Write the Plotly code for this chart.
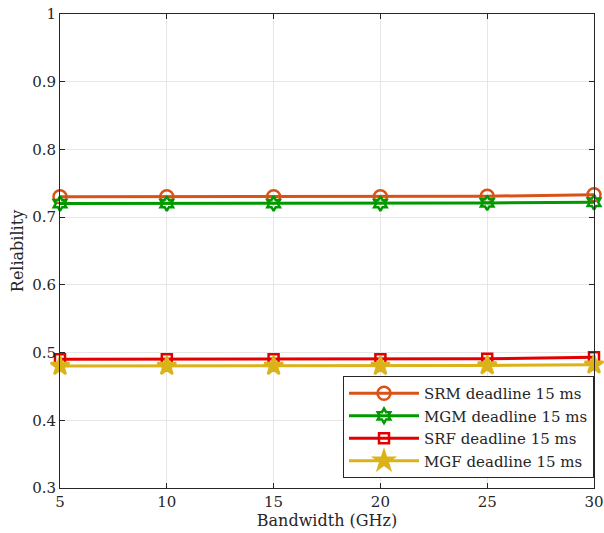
import plotly.graph_objects as go

bandwidth = [5, 10, 15, 20, 25, 30]
srm = [0.730, 0.730, 0.730, 0.730, 0.731, 0.733]
mgm = [0.720, 0.720, 0.720, 0.720, 0.721, 0.722]
srf = [0.490, 0.490, 0.490, 0.490, 0.491, 0.493]
mgf = [0.480, 0.480, 0.480, 0.480, 0.481, 0.482]

series = [
    ("SRM deadline 15 ms", srm, "#D95319", "circle-open", 13),
    ("MGM deadline 15 ms", mgm, "#009A00", "hexagram-open", 11),
    ("SRF deadline 15 ms", srf, "#E50000", "square-open", 10),
    ("MGF deadline 15 ms", mgf, "#DBB21A", "star", 14),
]

fig = go.Figure()
for name, ys, color, sym, sz in series:
    fig.add_trace(go.Scatter(
        x=bandwidth, y=ys, name=name, mode="lines+markers",
        line=dict(color=color, width=3),
        marker=dict(symbol=sym, size=sz, color=color,
                    line=dict(color=color, width=2.5)),
        cliponaxis=False,
    ))

font_family = "DejaVu Serif, Liberation Serif, serif"
axis_common = dict(
    showline=True, linecolor="#262626", linewidth=1, mirror="ticks",
    ticks="inside", ticklen=5, tickcolor="#262626",
    showgrid=True, gridcolor="#E6E6E6", gridwidth=1, zeroline=False,
    automargin=False,
    tickfont=dict(family=font_family, size=15, color="#262626"),
)
fig.update_xaxes(range=[5, 30], tickvals=[5, 10, 15, 20, 25, 30],
                 title=dict(text="Bandwidth (GHz)", standoff=2,
                            font=dict(family=font_family, size=16, color="#262626")),
                 **axis_common)
fig.update_yaxes(range=[0.3, 1.0], tickvals=[0.3, 0.4, 0.5, 0.6, 0.7, 0.8, 0.9, 1.0],
                 ticktext=["0.3", "0.4", "0.5", "0.6", "0.7", "0.8", "0.9", "1"],
                 title=dict(text="Reliability", standoff=4,
                            font=dict(family=font_family, size=16, color="#262626")),
                 **axis_common)
fig.update_layout(
    width=604, height=533,
    margin=dict(l=60, r=10, t=14, b=45),
    plot_bgcolor="white", paper_bgcolor="white",
    font=dict(family=font_family, color="#262626"),
    legend=dict(x=1.0, y=0.021, xanchor="right", yanchor="bottom",
                bgcolor="white", bordercolor="#262626", borderwidth=1,
                font=dict(family=font_family, size=15, color="#262626"),
                itemwidth=70, tracegroupgap=0),
    showlegend=True,
)
fig.write_html("out.html")
